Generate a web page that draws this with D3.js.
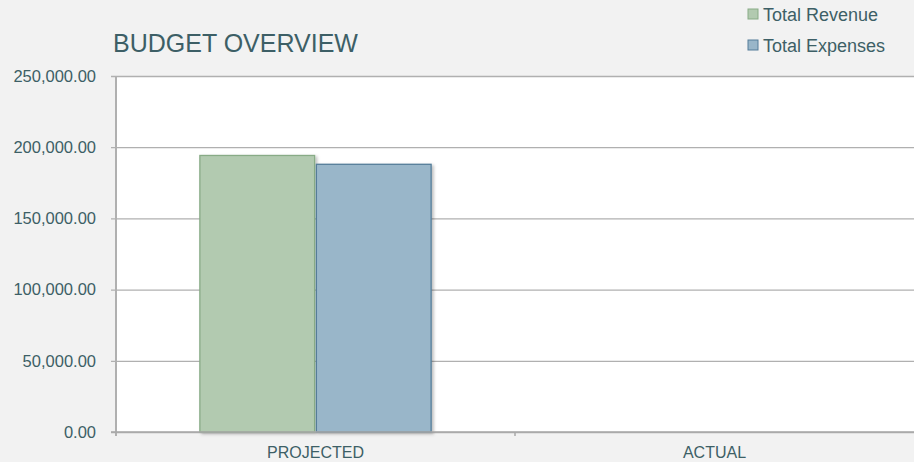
<!doctype html>
<html>
<head>
	<meta charset="utf-8">
	<title>Budget Overview</title>
	<style>
		body { margin: 0; background: #f2f2f2; }
		svg { display: block; font-family: "Liberation Sans", Arial, sans-serif; }
	</style>
</head>
<body>

<svg width="914" height="462"></svg>
<script src="https://d3js.org/d3.v7.min.js"></script>
<script>
var categories = ["PROJECTED", "ACTUAL"];
var seriesNames = ["Total Revenue", "Total Expenses"];
var revenue = [194200, null];
var expenses = [188000, null];
var yTicks = [0, 50000, 100000, 150000, 200000, 250000];

var fills = ["#b2cab0", "#99b6c9"];
var strokes = ["#88ab86", "#557d99"];
var textColor = "#3d5f66";

var svg = d3.select("svg"),
    width = +svg.attr("width"),
    height = +svg.attr("height");

var margin = {top: 76, right: 0, bottom: 30, left: 116};

var x0 = d3.scaleBand()
    .domain(categories)
    .range([margin.left, width - margin.right]);

var x1 = d3.scaleBand()
    .domain(seriesNames)
    .range([0, x0.bandwidth()])
    .paddingInner(0.015)
    .paddingOuter(0.72);

var y = d3.scaleLinear()
    .domain([0, 250000])
    .range([height - margin.bottom, margin.top]);

var fmt = d3.format(",.2f");

// shadow for the bars
var defs = svg.append("defs");
var f = defs.append("filter").attr("id", "shadow")
    .attr("x", "-10%").attr("y", "-10%").attr("width", "130%").attr("height", "130%");
f.append("feDropShadow")
    .attr("dx", 2).attr("dy", 1.5).attr("stdDeviation", 1.5)
    .attr("flood-color", "#000").attr("flood-opacity", 0.25);

// plot area
svg.append("rect")
    .attr("x", margin.left)
    .attr("y", margin.top)
    .attr("width", width - margin.left - margin.right)
    .attr("height", y(0) - margin.top)
    .attr("fill", "#fff");

// gridlines + y tick labels
var yAxis = d3.axisLeft(y)
    .tickValues(yTicks)
    .tickSize(-(width - margin.left - margin.right))
    .tickSizeOuter(0)
    .tickPadding(0)
    .tickFormat(fmt);

var gy = svg.append("g")
    .attr("transform", "translate(" + margin.left + ",0)")
    .call(yAxis);
gy.select(".domain").remove();
gy.selectAll(".tick line")
    .attr("x1", -5)
    .attr("stroke", "#b0b0b0")
    .attr("stroke-width", 1.3);
gy.selectAll(".tick text")
    .attr("x", -20)
    .attr("fill", textColor)
    .attr("font-size", 16.5);

// bars
var rows = categories.map(function(c, i) {
  return {cat: c, vals: [revenue[i], expenses[i]]};
});

var groups = svg.selectAll(".grp")
    .data(rows)
    .enter()
    .append("g")
    .attr("transform", function(d) { return "translate(" + x0(d.cat) + ",0)"; });

groups.selectAll("rect")
    .data(function(d) {
      return d.vals.map(function(v, j) { return {name: seriesNames[j], v: v, j: j}; })
        .filter(function(e) { return e.v != null; });
    })
    .enter()
    .append("rect")
    .attr("x", function(d) { return x1(d.name); })
    .attr("y", function(d) { return y(d.v); })
    .attr("width", x1.bandwidth())
    .attr("height", function(d) { return y(0) - y(d.v); })
    .attr("fill", function(d) { return fills[d.j]; })
    .attr("stroke", function(d) { return strokes[d.j]; })
    .attr("stroke-width", 1.3)
    .attr("filter", "url(#shadow)");

// axes lines
svg.append("line")
    .attr("x1", margin.left).attr("x2", margin.left)
    .attr("y1", margin.top).attr("y2", y(0) + 4)
    .attr("stroke", "#b0b0b0").attr("stroke-width", 2);

var xAxis = d3.axisBottom(x0).tickSize(0).tickSizeOuter(0);
var gx = svg.append("g")
    .attr("transform", "translate(0," + y(0) + ")")
    .call(xAxis);
gx.select(".domain")
    .attr("d", "M" + (margin.left - 5) + ",0H" + width)
    .attr("stroke", "#a8a8a8").attr("stroke-width", 1.5);
gx.selectAll(".tick text")
    .attr("y", 26)
    .attr("dy", 0)
    .attr("fill", textColor)
    .attr("font-size", 16);
gx.selectAll(".cat-tick")
    .data(categories.slice(1))
    .enter()
    .append("line")
    .attr("x1", function(d) { return x0(d); })
    .attr("x2", function(d) { return x0(d); })
    .attr("y1", 0).attr("y2", 4)
    .attr("stroke", "#a8a8a8").attr("stroke-width", 1.5);

// title
svg.append("text")
    .attr("x", 113)
    .attr("y", 52)
    .attr("fill", textColor)
    .attr("font-size", 25)
    .text("BUDGET OVERVIEW");

// legend
var legend = svg.selectAll(".legend")
    .data(seriesNames)
    .enter()
    .append("g")
    .attr("transform", function(d, i) { return "translate(748," + (9 + i * 31) + ")"; });

legend.append("rect")
    .attr("width", 10).attr("height", 10)
    .attr("fill", function(d, i) { return fills[i]; })
    .attr("stroke", function(d, i) { return strokes[i]; })
    .attr("stroke-width", 1);

legend.append("text")
    .attr("x", 15)
    .attr("y", 11.5)
    .attr("fill", textColor)
    .attr("font-size", 18)
    .text(function(d) { return d; });
</script>
</body>
</html>
